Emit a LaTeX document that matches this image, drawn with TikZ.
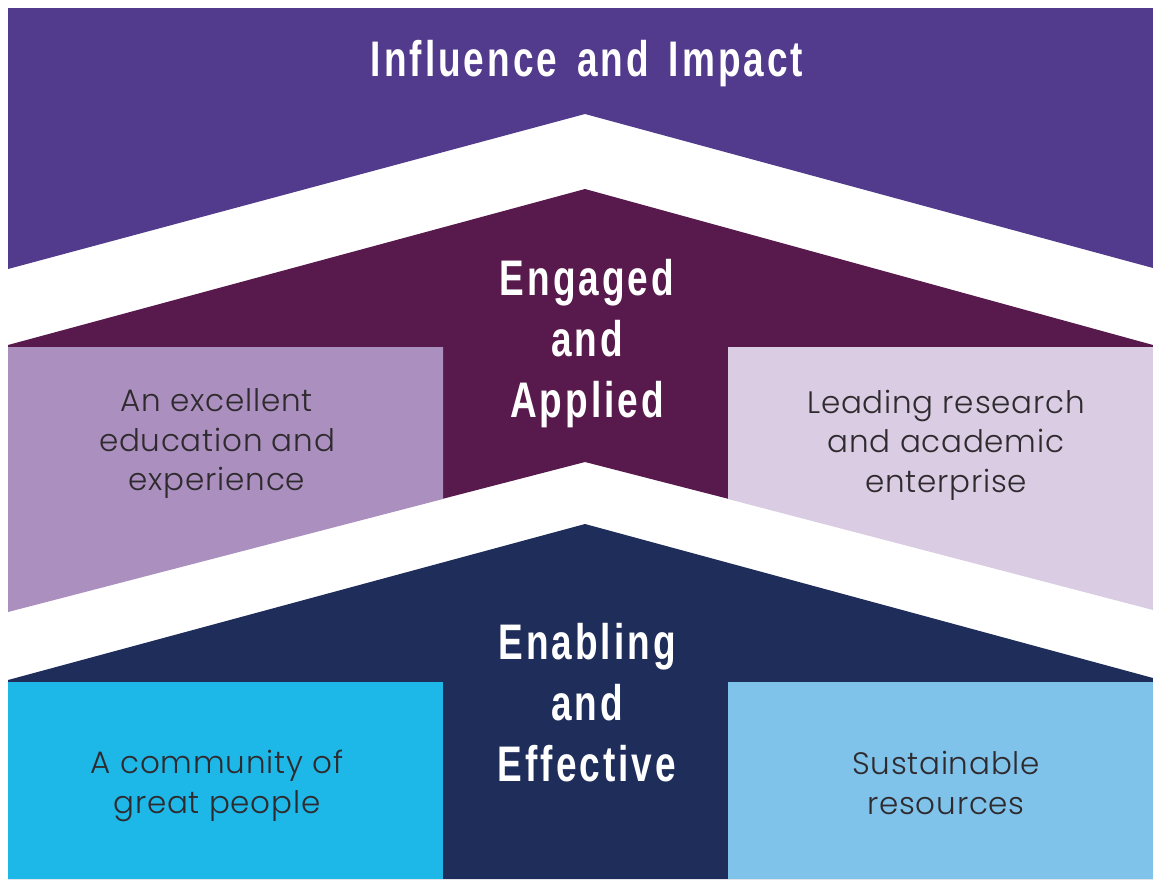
\documentclass[tikz,border=0pt]{standalone}
\usepackage{fontspec}
\usepackage{tikz}
\usetikzlibrary{calc}
\newfontfamily\headfamily{Liberation Sans}[FakeStretch=0.74,LetterSpace=6,WordSpace=1.5]
\newfontfamily\bodyfamily{Poppins Light}[LetterSpace=2.5]
\definecolor{influence}{HTML}{523A8C}
\definecolor{engaged}{HTML}{58194C}
\definecolor{lilac}{HTML}{AA8FBF}
\definecolor{palelilac}{HTML}{DACCE3}
\definecolor{enabling}{HTML}{1E2D5A}
\definecolor{cyanbox}{HTML}{1DB8E8}
\definecolor{skybox}{HTML}{7FC2EA}
\definecolor{bodygrey}{HTML}{2E2A2E}
\def\headnode{\node[text=white,align=center,font=\headfamily\bfseries\fontsize{50}{61}\selectfont]}
\def\bodynode{\node[text=bodygrey,align=center,font=\bodyfamily\fontsize{31}{39.5}\selectfont]}

\begin{document}
\begin{tikzpicture}[x=1pt,y=-1pt]
\useasboundingbox (0,0) rectangle (1153,879);
\coordinate (o) at (585,114); % apex of the top band, the others hang below it
\coordinate (engaged_top) at ($ (o) + (0,75) $);
\coordinate (engaged_bottom) at ($ (o) + (0,348) $);
\coordinate (enabling_top) at ($ (o) + (0,410) $);

% Influence and Impact
\fill[influence] (8,8) -- (1153,8) -- (1153,268) -- (o) -- (8,269) -- cycle;

% Engaged and Applied, with its two side boxes
\fill[engaged] (8,345) -- (engaged_top) -- (1153,345) -- (1153,348) -- (729,348) -- (729,499)
  -- (engaged_bottom) -- (442,499) -- (442,348) -- (8,348) -- cycle;
\fill[lilac] (8,347) -- (443,347) -- (443,499) -- (8,612) -- cycle;
\fill[palelilac] (728,347) -- (1153,347) -- (1153,610) -- (728,499) -- cycle;

% Enabling and Effective
\fill[enabling] (8,680) -- (enabling_top) -- (1153,678) -- (1153,879) -- (8,879) -- cycle;
\fill[cyanbox] (8,682) rectangle (443,879);
\fill[skybox] (728,682) rectangle (1153,879);

\headnode (influence_txt) at (587,64) {Influence and Impact};
\headnode (engaged_txt) at (587,344) {Engaged\\and\\Applied};
\headnode (enabling_txt) at (587,703) {Enabling\\and\\Effective};

\bodynode (education) at (217,444) {An excellent\\education and\\experience};
\bodynode (research) at (946,445) {Leading research\\and academic\\enterprise};
\bodynode (community) at (217,786) {A community of\\great people};
\bodynode (resources) at (946,783) {Sustainable\\resources};
\end{tikzpicture}
\end{document}
